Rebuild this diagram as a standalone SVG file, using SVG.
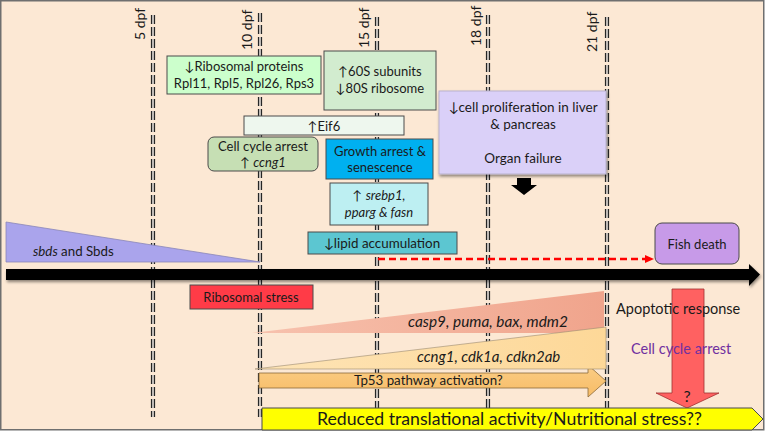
<svg xmlns="http://www.w3.org/2000/svg" width="766" height="442" viewBox="0 0 766 442">
<style>
text{font-family:Lato,"Liberation Sans",sans-serif;font-size:13px;fill:#1a1a1a}
.c{text-anchor:middle}
.i{font-style:italic}
.box{stroke:#4a4a4a;stroke-width:1}
.dpf{font-size:14px}
.vd{fill:none;stroke:#262626;stroke-width:4.2;stroke-dasharray:9 3}
.vl{fill:none;stroke:#F2ECE6;stroke-width:1.5;stroke-dasharray:9 3}
</style>
<defs>
<filter id="sh" x="-5%" y="-30%" width="110%" height="180%">
<feGaussianBlur in="SourceAlpha" stdDeviation="1.5"/>
<feOffset dx="1" dy="2" result="b"/>
<feComponentTransfer><feFuncA type="linear" slope="0.45"/></feComponentTransfer>
<feMerge><feMergeNode/><feMergeNode in="SourceGraphic"/></feMerge>
</filter>
<linearGradient id="gs" x1="0" x2="1" y1="0" y2="0"><stop offset="0" stop-color="#F7C2AE"/><stop offset="1" stop-color="#F0A48C"/></linearGradient>
<linearGradient id="gy" x1="0" x2="1" y1="0" y2="0"><stop offset="0" stop-color="#FEE4B6"/><stop offset="1" stop-color="#FDD898"/></linearGradient>
<linearGradient id="gt" x1="0" x2="0" y1="0" y2="1"><stop offset="0" stop-color="#FBCD85"/><stop offset="1" stop-color="#F7BC66"/></linearGradient>
</defs>
<rect x="0.75" y="0.75" width="763" height="429" fill="#FCE8D4" stroke="#6f6f6f" stroke-width="1.5"/>

<g id="timelines">
<line class="vd" x1="153" y1="15" x2="153" y2="417"/><line class="vl" x1="153" y1="15" x2="153" y2="417"/>
<line class="vd" x1="260" y1="13" x2="260" y2="417"/><line class="vl" x1="260" y1="13" x2="260" y2="417"/>
<line class="vd" x1="377" y1="17" x2="377" y2="417"/><line class="vl" x1="377" y1="17" x2="377" y2="417"/>
<line class="vd" x1="488" y1="15" x2="488" y2="417"/><line class="vl" x1="488" y1="15" x2="488" y2="417"/>
<line class="vd" x1="607" y1="17" x2="607" y2="417"/><line class="vl" x1="607" y1="17" x2="607" y2="417"/>
<text class="dpf" transform="translate(145,40) rotate(-90)">5 dpf</text>
<text class="dpf" transform="translate(252,50) rotate(-90)">10 dpf</text>
<text class="dpf" transform="translate(369,48) rotate(-90)">15 dpf</text>
<text class="dpf" transform="translate(481,46) rotate(-90)">18 dpf</text>
<text class="dpf" transform="translate(597,52) rotate(-90)">21 dpf</text>
</g>

<g id="sbds">
<polygon points="6,222 260,262 6,262" fill="#AAA4EC" stroke="#8a86b8" stroke-width="0.8"/>
<text x="33" y="256" style="font-size:13.3px"><tspan class="i">sbds</tspan> and Sbds</text>
</g>

<g id="ribosomal-proteins">
<rect class="box" x="167" y="56" width="154" height="38" fill="#CCFFCC"/>
<text class="c" x="244" y="71">↓Ribosomal proteins</text>
<text class="c" x="244" y="88">Rpl11, Rpl5, Rpl26, Rps3</text>
</g>

<g id="subunits">
<rect class="box" x="324" y="51" width="112" height="59" fill="#D2ECCF"/>
<text class="c" x="380" y="76">↑60S subunits</text>
<text class="c" x="380" y="93">↓80S ribosome</text>
</g>

<g id="eif6">
<rect class="box" x="244" y="116" width="160" height="19" fill="#EEF7EE"/>
<text class="c" x="324" y="130.5">↑Eif6</text>
</g>

<g id="cell-cycle-arrest">
<rect class="box" x="208" y="137" width="110" height="34" rx="6" fill="#C6DFB4" stroke="#8a9a7a"/>
<text class="c" x="263" y="151">Cell cycle arrest</text>
<text class="c" x="263" y="167">↑ <tspan class="i">ccng1</tspan></text>
</g>

<g id="growth-arrest">
<rect class="box" x="326" y="139" width="107" height="40" fill="#00B0F0"/>
<text class="c" x="380" y="156">Growth arrest &amp;</text>
<text class="c" x="380" y="172">senescence</text>
</g>

<g id="srebp1">
<rect class="box" x="330" y="183" width="98" height="42" fill="#BDEFF2"/>
<text class="c" x="379" y="200">↑ <tspan class="i">srebp1,</tspan></text>
<text class="c i" x="379" y="217">pparg &amp; fasn</text>
</g>

<g id="lipid">
<rect class="box" x="308" y="232" width="149" height="22" fill="#5CC6D1"/>
<text class="c" x="382" y="248" style="font-size:13.4px">↓lipid accumulation</text>
</g>

<g id="organ-failure">
<rect x="439" y="91" width="167" height="83" fill="#DAD0F8" stroke="#b9b2cc" stroke-width="1" filter="url(#sh)"/>
<text class="c" x="523" y="112" style="font-size:13.5px">↓cell proliferation in liver</text>
<text class="c" x="523" y="129" style="font-size:13.5px">&amp; pancreas</text>
<text class="c" x="523" y="163" style="font-size:13.5px">Organ failure</text>
</g>

<g id="fish-death">
<rect class="box" x="655" y="223" width="84" height="41" rx="7" fill="#C79AE8" stroke="#6a5a7a"/>
<text class="c" x="697" y="249">Fish death</text>
</g>

<g id="ribosomal-stress">
<rect class="box" x="190" y="285" width="123" height="24" fill="#FF3B47"/>
<text class="c" x="251" y="302">Ribosomal stress</text>
</g>

<g id="apoptosis">
<polygon points="252,333 604,291 604,333" fill="url(#gs)"/>
<text class="i" x="408" y="327" style="font-size:15.4px">casp9, puma, bax, mdm2</text>
</g>

<g id="tp53">
<polygon points="259,373 588,373 588,365 606,381 588,397 588,388 259,388" fill="url(#gt)" stroke="#8a6a3a" stroke-width="0.8"/>
<text x="354" y="385" style="font-size:13.3px">Tp53 pathway activation?</text>
</g>

<g id="cell-cycle-genes">
<polygon points="255,369 606,327 606,369" fill="url(#gy)" stroke="#9a8a70" stroke-width="0.6"/>
<text class="i" x="417" y="362" style="font-size:15px">ccng1, cdk1a, cdkn2ab</text>
</g>

<g id="response">
<polygon points="672,289 704,289 704,393 719,393 687,408 656,393 672,393" fill="#FF6161" stroke="#a03030" stroke-width="0.8"/>
<text x="616" y="314" style="font-size:14.5px">Apoptotic response</text>
<text x="631" y="354" style="font-size:14.5px;fill:#7030A0">Cell cycle arrest</text>
<text class="c" x="687" y="402" style="font-size:16px">?</text>
</g>

<g id="nutritional-stress">
<polygon points="262,408 752,408 763,419 752,430 262,430" fill="#FFFF00" stroke="#4a4a4a" stroke-width="1"/>
<text x="317" y="425" style="font-size:17.7px">Reduced translational activity/Nutritional stress??</text>
</g>

<g id="connectors">
<g filter="url(#sh)">
<polygon points="6,269 749,269 749,264 760,274.5 749,286 749,280 6,280" fill="#000"/>
</g>
<line x1="378" y1="259" x2="646" y2="259" stroke="#FF0000" stroke-width="2.5" stroke-dasharray="7 4"/>
<polygon points="645,255 654,259 645,263" fill="#FF0000"/>
<polygon points="517,178 531,178 531,185 537,185 524,195 511,185 517,185" fill="#000"/>
</g>
</svg>
